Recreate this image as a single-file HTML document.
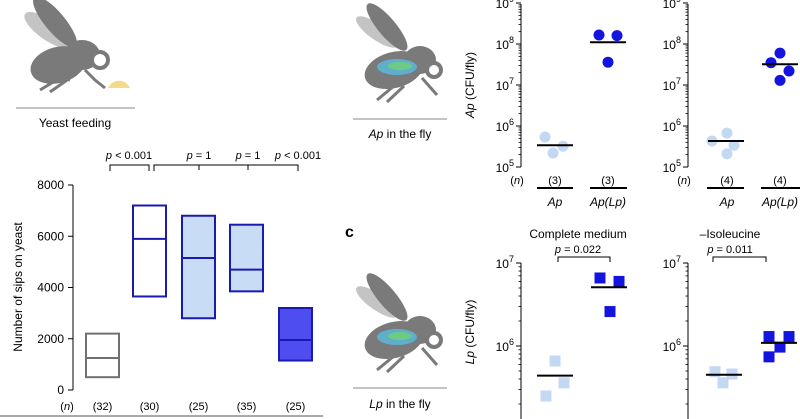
<!DOCTYPE html>
<html><head><meta charset="utf-8"><style>
html,body{margin:0;padding:0;background:#fff}
svg{display:block;font-family:"Liberation Sans",sans-serif}
</style></head><body>
<svg id="fig" width="800" height="419" viewBox="0 0 800 419">
<defs>
<g id="flybody">
<ellipse cx="245" cy="30" rx="25" ry="8" transform="rotate(35 245 30)" fill="#c4c4c4"/>
<ellipse cx="255" cy="25" rx="30" ry="9" transform="rotate(50 255 25)" fill="#7a7a7a"/>
<ellipse cx="262" cy="68" rx="30" ry="18" transform="rotate(-15 262 68)" fill="#7a7a7a"/>
<ellipse cx="288" cy="58" rx="16" ry="14" fill="#7a7a7a"/>
<circle cx="302" cy="68" r="7" fill="#fff" stroke="#7a7a7a" stroke-width="4"/>
<path d="M245 98 L262 84 M255 100 L272 84 M290 76 L305 93" stroke="#7a7a7a" stroke-width="3" fill="none"/>
</g>
</defs>
<!-- fly 1 -->
<g>
<ellipse cx="48" cy="30" rx="28" ry="10" transform="rotate(35 48 30)" fill="#c4c4c4"/>
<ellipse cx="55" cy="22" rx="32" ry="10" transform="rotate(50 55 22)" fill="#7a7a7a"/>
<ellipse cx="58" cy="65" rx="28" ry="18" transform="rotate(-15 58 65)" fill="#7a7a7a"/>
<ellipse cx="82" cy="55" rx="18" ry="15" fill="#7a7a7a"/>
<circle cx="100" cy="60" r="8" fill="#fff" stroke="#7a7a7a" stroke-width="4"/>
<path d="M40 90 L60 78 L70 80 M50 92 L70 78 M85 70 L95 80 L105 88" stroke="#7a7a7a" stroke-width="3" fill="none"/>
<path d="M108 88 A12 12 0 0 1 130 88 Z" fill="#f7d98a"/>
</g>
<line x1="16" y1="108" x2="135" y2="108" stroke="#888" stroke-width="1"/>
<text x="75" y="127" font-size="12" text-anchor="middle">Yeast  feeding</text>

<g transform="translate(132,2)">
<use href="#flybody"/>
<ellipse cx="265" cy="65" rx="20" ry="8" fill="#5ab8d8" opacity=".85"/>
<ellipse cx="268" cy="64" rx="12" ry="4" fill="#6fcf7a" opacity=".85"/>
</g>
<line x1="353" y1="119" x2="447" y2="119" stroke="#888"/>
<text x="400" y="138" font-size="12" text-anchor="middle"><tspan font-style="italic">Ap</tspan> in the fly</text>
<g transform="translate(132,272)">
<use href="#flybody"/>
<ellipse cx="265" cy="65" rx="20" ry="8" fill="#5ab8d8" opacity=".85"/>
<ellipse cx="268" cy="64" rx="12" ry="4" fill="#6fcf7a" opacity=".85"/>
</g>
<line x1="353" y1="388" x2="447" y2="388" stroke="#888"/>
<text x="400" y="408" font-size="12" text-anchor="middle"><tspan font-style="italic">Lp</tspan> in the fly</text>
<text x="345" y="237" font-size="16" font-weight="bold">c</text>

<line x1="0" y1="416" x2="323" y2="416" stroke="#aaa" stroke-width="2"/>
<text transform="translate(22,287) rotate(-90)" font-size="12" text-anchor="middle">Number of sips on yeast</text>
<text x="474" y="85" transform="rotate(-90 474 85)" font-size="12" text-anchor="middle"><tspan font-style="italic">Ap</tspan> (CFU/fly)</text>
<text x="474" y="332" transform="rotate(-90 474 332)" font-size="12" text-anchor="middle"><tspan font-style="italic">Lp</tspan> (CFU/fly)</text>
<g id="dyn"></g>
</svg>
<script>
// ---- sips box chart ----
const boxLow = [500, 3650, 2800, 3850, 1150];
const boxMed = [1250, 5900, 5150, 4700, 1950];
const boxHigh = [2200, 7200, 6800, 6450, 3200];
const boxN = ["(32)", "(30)", "(25)", "(35)", "(25)"];
const sipTicks = [0, 2000, 4000, 6000, 8000];
// ---- Ap panels ----
const apA1 = [5.4e5, 2.2e5, 3.2e5], apA1Med = 3.4e5;
const apL1 = [1.66e8, 1.6e8, 3.6e7], apL1Med = 1.1e8;
const apA2 = [6.7e5, 4.3e5, 3.4e5, 2.1e5], apA2Med = 4.3e5;
const apL2 = [6e7, 3.5e7, 2.2e7, 1.3e7], apL2Med = 3.2e7;
// ---- Lp panels ----
const lpA1 = [6.6e5, 3.6e5, 2.5e5], lpA1Med = 4.4e5;
const lpL1 = [6.6e6, 6e6, 2.6e6], lpL1Med = 5.1e6;
const lpA2 = [4.9e5, 4.6e5, 3.6e5], lpA2Med = 4.5e5;
const lpL2 = [1.3e6, 1.3e6, 9.7e5, 7.4e5], lpL2Med = 1.09e6;

const NS = "http://www.w3.org/2000/svg";
const g = document.getElementById("dyn");
function mk(tag, a, parent) {
  const e = document.createElementNS(NS, tag);
  for (const k in a) e.setAttribute(k, a[k]);
  (parent || g).appendChild(e);
  return e;
}
function txt(x, y, s, size, anchor, extra) {
  const t = mk("text", Object.assign({x: x, y: y, "font-size": size, "text-anchor": anchor || "middle"}, extra || {}));
  t.innerHTML = s;
  return t;
}
// box chart
const ySip = v => 390 - v * 205 / 8000;
const boxX = [86, 133, 182, 230, 279];
const boxW = 33;
const strokes = ["#707070", "#1a1ab0", "#1a1ab0", "#1a1ab0", "#1a1ab0"];
const fills = ["#fff", "#fff", "#c9dcf5", "#c9dcf5", "#4d4df0"];
let ax = mk("line", {x1: 73, y1: ySip(0), x2: 73, y2: ySip(8000), stroke: "#000"});


sipTicks.forEach(v => {
  let l = mk("line", {x1: 68, x2: 73, y1: ySip(v), y2: ySip(v), stroke: "#000"});
  
  
  let t = txt(64, ySip(v) + 4, String(v), 12, "end");
  
  
});
boxLow.forEach((lo, i) => {
  let r = mk("rect", {x: boxX[i], y: ySip(boxHigh[i]), width: boxW, height: ySip(lo) - ySip(boxHigh[i]), fill: fills[i], stroke: strokes[i], "stroke-width": 2});
  
  
  let m = mk("line", {x1: boxX[i], x2: boxX[i] + boxW, y1: ySip(boxMed[i]), y2: ySip(boxMed[i]), stroke: strokes[i], "stroke-width": 2});
  
  
  let n = txt(boxX[i] + boxW / 2, 410, boxN[i], 11);
  
  
});
let nl = txt(67, 410, "(<tspan font-style='italic'>n</tspan>)", 11);


// brackets
let b1 = mk("path", {d: "M110 171 V165 H149 V171", stroke: "#000", fill: "none"});


let b2 = mk("path", {d: "M154 171 V165 H298 V171 M199 165 V170 M248 165 V170", stroke: "#000", fill: "none"});


[[129, "p &lt; 0.001"], [199, "p = 1"], [248, "p = 1"], [298, "p &lt; 0.001"]].forEach(p => {
  let t = txt(p[0], 159, p[1].replace("p", "<tspan font-style='italic'>p</tspan>"), 11);
  
  
});

// log panels
function logPanel(axX, yOf, decades, yTop, yBot, groups, dark, light, shape) {
  let a = mk("line", {x1: axX, x2: axX, y1: yTop, y2: yBot, stroke: "#000"});
  
  
  decades.forEach(d => {
    let y = yOf(Math.pow(10, d));
    if (y >= yTop - 1 && y <= yBot + 1) {
      let l = mk("line", {x1: axX - 5, x2: axX, y1: y, y2: y, stroke: "#000"});
      
      
      let t = txt(axX - 7, y + 5, "10<tspan dy='-6' font-size='9'>" + d + "</tspan>", 12, "end");
      
      
    }
    for (let k = 2; k < 10; k++) {
      let yy = yOf(k * Math.pow(10, d));
      if (yy >= yTop && yy <= yBot) {
        let l = mk("line", {x1: axX - 2.5, x2: axX, y1: yy, y2: yy, stroke: "#000", "stroke-width": 0.8});
        
        
      }
    }
  });
  groups.forEach((gr, gi) => {
    const cx = gr.cx, col = gi === 0 ? light : dark;
    gr.vals.forEach((v, j) => {
      const x = cx + gr.jit[j], y = yOf(v);
      let e = shape === "circle" ? mk("circle", {cx: x, cy: y, r: 5.5, fill: col}) : mk("rect", {x: x - 5.5, y: y - 5.5, width: 11, height: 11, fill: col});
      
      
    });
    let m = mk("line", {x1: cx - 18, x2: cx + 18, y1: yOf(gr.med), y2: yOf(gr.med), stroke: "#000", "stroke-width": 2});
    
    
  });
}
const yAp = v => 167 - (Math.log10(v) - 5) * 41;
const yLp = v => 346 - (Math.log10(v) - 6) * 83;
const C = "#1414e0", L = "#c3d8f3";
logPanel(521, yAp, [5,6,7,8,9], 4, 167, [
  {cx: 555, vals: apA1, med: apA1Med, jit: [-10, -2, 8]},
  {cx: 608, vals: apL1, med: apL1Med, jit: [-9, 9, 0]}], C, L, "circle");
logPanel(688, yAp, [5,6,7,8,9], 4, 167, [
  {cx: 726, vals: apA2, med: apA2Med, jit: [1, -14, 8, 1]},
  {cx: 780, vals: apL2, med: apL2Med, jit: [0, -9, 9, 0]}], C, L, "circle");
logPanel(521, yLp, [5,6,7], 263, 419, [
  {cx: 555, vals: lpA1, med: lpA1Med, jit: [0, 9, -9]},
  {cx: 609, vals: lpL1, med: lpL1Med, jit: [-9, 10, 1]}], C, L, "square");
logPanel(688, yLp, [5,6,7], 263, 419, [
  {cx: 724, vals: lpA2, med: lpA2Med, jit: [-9, 8, -1]},
  {cx: 779, vals: lpL2, med: lpL2Med, jit: [-10, 10, 1, -10]}], C, L, "square");

[[517,"(<tspan font-style='italic'>n</tspan>)"],[555,"(3)"],[608,"(3)"],[684,"(<tspan font-style='italic'>n</tspan>)"],[727,"(4)"],[780,"(4)"]].forEach(p => {
  let t = txt(p[0], 184, p[1], 11);
  
  
});
[[537,573],[590,627],[707,744],[761,800]].forEach(p => {
  let l = mk("line", {x1: p[0], x2: p[1], y1: 188, y2: 188, stroke: "#000", "stroke-width": 2});
  
  
});
[[555,"Ap"],[608,"Ap(Lp)"],[727,"Ap"],[780,"Ap(Lp)"]].forEach(p => {
  let t = txt(p[0], 206, p[1], 12, "middle", {"font-style": "italic"});
  
  
});
[[578,"Complete medium","0.022",558,610],[730,"–Isoleucine","0.011",713,766]].forEach(p => {
  let t = txt(p[0], 238, p[1], 12);
  
  
  let pv = txt(p[0], 253, "<tspan font-style='italic'>p</tspan> = " + p[2], 11);
  
  
  let b = mk("path", {d: "M" + p[3] + " 262 V257 H" + p[4] + " V262", stroke: "#000", fill: "none"});
  
  
});
</script>
</body></html>
